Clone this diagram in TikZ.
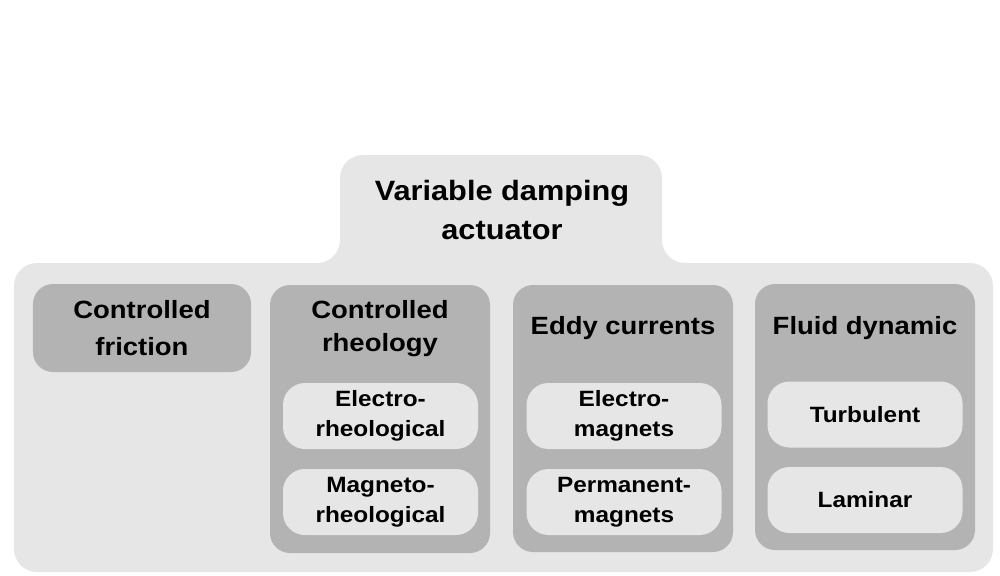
\documentclass[tikz,border=0pt]{standalone}
\usepackage{fontspec}
\setmainfont[FakeStretch=1.1]{Liberation Sans}
\definecolor{lightgr}{HTML}{E6E6E6}
\definecolor{darkgr}{HTML}{B3B3B3}
\begin{document}
\begin{tikzpicture}[x=0.2mm,y=-0.2mm,
    grp/.style={fill=darkgr, rounded corners=4mm, minimum width=44mm, inner sep=0pt},
    grptitle/.style={align=center, inner sep=0pt, font=\fontsize{14.2}{19}\selectfont\bfseries},
    sub/.style={fill=lightgr, rounded corners=4.4mm, minimum width=39mm, minimum height=13.2mm,
        inner sep=0pt, align=center, font=\fontsize{12.6}{17.3}\selectfont\bfseries}]
    \useasboundingbox (0,0) rectangle (1000,575);

    % Outer frame with tab
    \fill[lightgr, rounded corners=4.6mm] (500,572) -- (14,572) -- (14,263) -- (340,263) -- (340,155)
        -- (662,155) -- (662,263) -- (993,263) -- (993,572) -- cycle;
    \node[align=center, inner sep=0pt, font=\fontsize{15.9}{22.7}\selectfont\bfseries] (title) at (502,210)
        {Variable damping\\actuator};

    % Controlled friction
    \node[grp, minimum width=43.6mm, minimum height=17.6mm, align=center,
        font=\fontsize{14.2}{21}\selectfont\bfseries] (friction) at (142,328) {Controlled\\friction};

    % Controlled rheology
    \node[grp, minimum height=53.6mm] (rheo) at (380,419) {};
    \node[grptitle] (rheotitle) at (380,328.5) {Controlled\\rheology};
    \node[sub] (electrorheo) at (380.5,416) {Electro-\\rheological};
    \node[sub] (magnetorheo) at (380.5,502) {Magneto-\\rheological};

    % Eddy currents
    \node[grp, minimum height=53.4mm] (eddy) at (623,418.5) {};
    \node[grptitle] (eddytitle) at (623,328) {Eddy currents};
    \node[sub] (electromag) at (624,416) {Electro-\\magnets};
    \node[sub] (permmag) at (624,502) {Permanent-\\magnets};

    % Fluid dynamic
    \node[grp, minimum height=53.2mm] (fluid) at (865,417) {};
    \node[grptitle] (fluidtitle) at (865,328) {Fluid dynamic};
    \node[sub] (turbulent) at (865,414.5) {Turbulent};
    \node[sub] (laminar) at (865,500) {Laminar};
\end{tikzpicture}
\end{document}
